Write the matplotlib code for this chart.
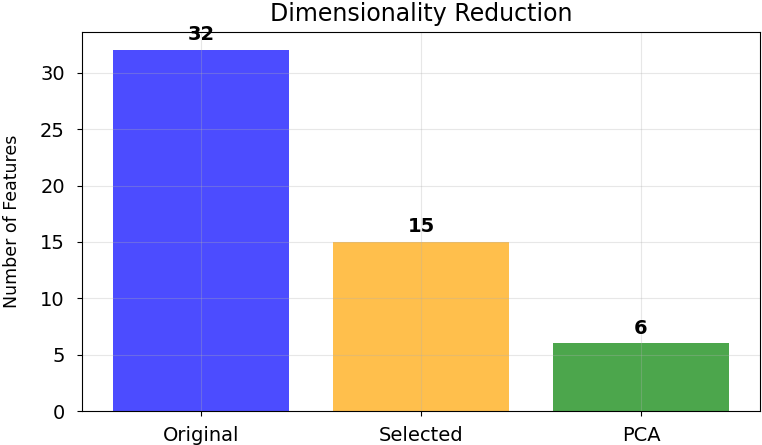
import matplotlib
matplotlib.use('Agg')
from matplotlib import pyplot as plt

# data
methods = ['Original', 'Selected', 'PCA']
n_features = [32, 15, 6]
bar_colors = ['blue', 'orange', 'green']

fig = plt.figure(figsize=(7.62, 4.45), dpi=100)
ax = fig.add_axes([0.108, 0.076, 0.889, 0.852])

bars = ax.bar(methods, n_features, color=bar_colors, alpha=0.7)
for b, v in zip(bars, n_features):
    ax.text(b.get_x() + b.get_width() / 2, v + 0.5, str(v),
            ha='center', va='bottom', fontweight='bold', fontsize=14)

ax.set_title('Dimensionality Reduction', fontsize=17, pad=8)
ax.set_ylabel('Number of Features', fontsize=12.5, labelpad=14)
ax.tick_params(axis='x', labelsize=14, pad=7)
ax.tick_params(axis='y', labelsize=14, pad=9)
ax.grid(True, alpha=0.3)

plt.savefig('out.png', dpi=100)
